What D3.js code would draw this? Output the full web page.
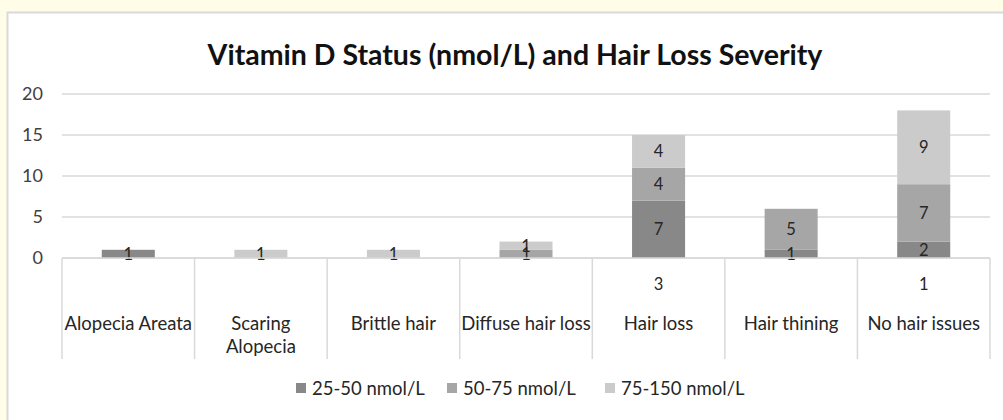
<!DOCTYPE html>
<html>
<head>
<meta charset="utf-8">
<script src="https://cdn.jsdelivr.net/npm/d3@7"></script>
<style>
  html, body { margin: 0; padding: 0; background: #FFFDE8; }
  svg { display: block; font-family: Lato, "Open Sans", sans-serif; }
</style>
</head>
<body>
<script>
const WIDTH = 1003;
const HEIGHT = 420;
const MARGIN = { top: 94, right: 13, bottom: 162, left: 62 };

// data
const categories = ["Alopecia Areata", "Scaring Alopecia", "Brittle hair", "Diffuse hair loss", "Hair loss", "Hair thining", "No hair issues"];
const seriesNames = ["25-50 nmol/L", "50-75 nmol/L", "75-150 nmol/L"];
const low = [1, 0, 0, 0, 7, 1, 2];
const mid = [0, 0, 0, 1, 4, 5, 7];
const high = [0, 1, 1, 1, 4, 0, 9];
// stray labels shown under the axis
const belowLabels = [null, null, null, null, 3, null, 1];
const yTicks = [0, 5, 10, 15, 20];

const colors = ["#888888", "#A6A6A6", "#CBCBCB"];

const rows = categories.map((c, i) => ({
    cat: c,
    "25-50 nmol/L": low[i],
    "50-75 nmol/L": mid[i],
    "75-150 nmol/L": high[i],
}));

const svg = d3.select("body")
    .append("svg")
    .attr("width", WIDTH)
    .attr("height", HEIGHT);

// chart area
svg.append("rect")
    .attr("x", 7.5).attr("y", 12.5)
    .attr("width", WIDTH).attr("height", HEIGHT)
    .attr("fill", "white")
    .attr("stroke", "#D9D9D9")
    .attr("stroke-width", 2);

svg.append("text")
    .attr("x", 515)
    .attr("y", 65)
    .attr("text-anchor", "middle")
    .attr("font-size", 28.5)
    .attr("font-weight", "bold")
    .attr("fill", "#111")
    .text("Vitamin D Status (nmol/L) and Hair Loss Severity");

const x = d3.scaleBand()
    .domain(categories)
    .range([MARGIN.left, WIDTH - MARGIN.right]);

const y = d3.scaleLinear()
    .domain([0, 20])
    .range([HEIGHT - MARGIN.bottom, MARGIN.top]);

// gridlines
svg.append("g")
    .selectAll("line")
    .data(yTicks)
    .join("line")
    .attr("x1", x.range()[0])
    .attr("x2", x.range()[1])
    .attr("y1", d => y(d))
    .attr("y2", d => y(d))
    .attr("stroke", "#D9D9D9")
    .attr("stroke-width", 1.5);

svg.append("g")
    .selectAll("text")
    .data(yTicks)
    .join("text")
    .attr("x", 43)
    .attr("y", d => y(d))
    .attr("dy", "0.35em")
    .attr("text-anchor", "end")
    .attr("font-size", 18)
    .attr("fill", "#404040")
    .text(d => d);

// bars
const stack = d3.stack().keys(seriesNames);
const layers = stack(rows);
const barW = x.bandwidth() * 0.4;

const groups = svg.append("g")
    .selectAll("g")
    .data(layers)
    .join("g")
    .attr("fill", (d, i) => colors[i]);

groups.selectAll("rect")
    .data(d => d.filter(p => p[1] - p[0] > 0))
    .join("rect")
    .attr("x", d => x(d.data.cat) + (x.bandwidth() - barW) / 2)
    .attr("y", d => y(d[1]))
    .attr("width", barW)
    .attr("height", d => y(d[0]) - y(d[1]));

// data labels
svg.append("g")
    .selectAll("g")
    .data(layers)
    .join("g")
    .selectAll("text")
    .data(d => d.filter(p => p[1] - p[0] > 0))
    .join("text")
    .attr("x", d => x(d.data.cat) + x.bandwidth() / 2)
    .attr("y", d => (y(d[0]) + y(d[1])) / 2)
    .attr("dy", "0.36em")
    .attr("text-anchor", "middle")
    .attr("font-size", 16.5)
    .attr("fill", "#262626")
    .text(d => d[1] - d[0]);

// category axis
const axisY = y(0);
svg.append("line")
    .attr("x1", x.range()[0]).attr("x2", x.range()[1])
    .attr("y1", axisY).attr("y2", axisY)
    .attr("stroke", "#D9D9D9").attr("stroke-width", 1.5);

const edges = categories.map(c => x(c)).concat([x.range()[1]]);
svg.append("g")
    .selectAll("line")
    .data(edges)
    .join("line")
    .attr("x1", d => d).attr("x2", d => d)
    .attr("y1", axisY).attr("y2", 359)
    .attr("stroke", "#D9D9D9").attr("stroke-width", 1.5);

svg.append("g")
    .selectAll("text")
    .data(categories.map((c, i) => ({ cat: c, v: belowLabels[i] })).filter(d => d.v !== null))
    .join("text")
    .attr("x", d => x(d.cat) + x.bandwidth() / 2)
    .attr("y", 284)
    .attr("dy", "0.36em")
    .attr("text-anchor", "middle")
    .attr("font-size", 16.5)
    .attr("fill", "#262626")
    .text(d => d.v);

const catLabels = svg.append("g")
    .selectAll("text")
    .data(categories)
    .join("text")
    .attr("x", d => x(d) + x.bandwidth() / 2)
    .attr("y", 330)
    .attr("text-anchor", "middle")
    .attr("font-size", 18.5)
    .attr("fill", "#262626");

catLabels.selectAll("tspan")
    .data(d => d === "Scaring Alopecia" ? d.split(" ") : [d])
    .join("tspan")
    .attr("x", function () { return d3.select(this.parentNode).attr("x"); })
    .attr("dy", (d, i) => i === 0 ? 0 : 23)
    .text(d => d);

// legend
const legend = svg.append("g");
const legendX = [296, 447, 605];
const items = legend.selectAll("g")
    .data(seriesNames)
    .join("g")
    .attr("transform", (d, i) => `translate(${legendX[i]}, 383)`);

items.append("rect")
    .attr("width", 10).attr("height", 10)
    .attr("fill", (d, i) => colors[i]);

items.append("text")
    .attr("x", 16)
    .attr("y", 12)
    .attr("font-size", 18.5)
    .attr("fill", "#262626")
    .text(d => d);
</script>
</body>
</html>
